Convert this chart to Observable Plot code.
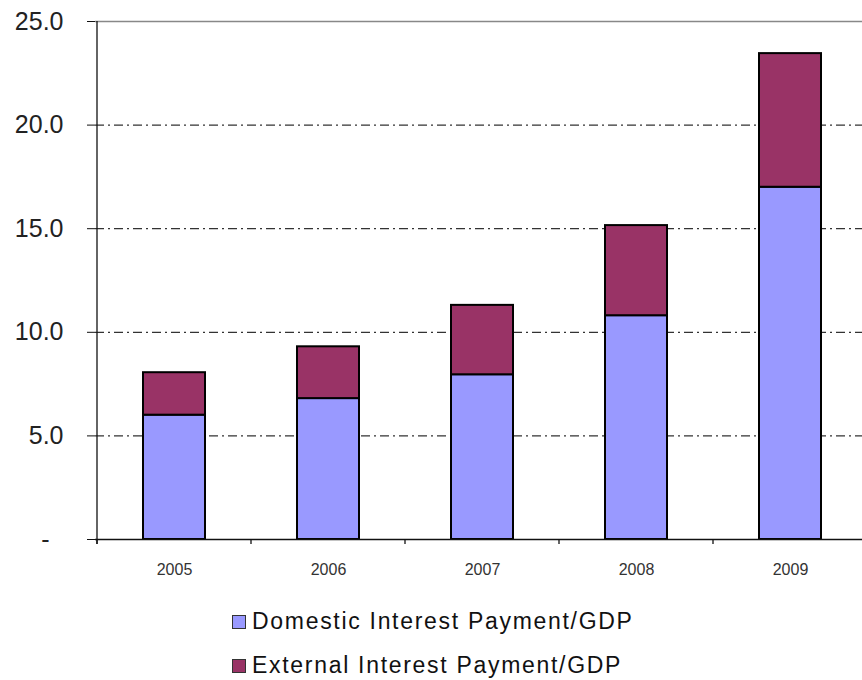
<!DOCTYPE html>
<html>
<head>
<meta charset="utf-8">
<script src="https://cdn.jsdelivr.net/npm/d3@7"></script>
<script src="https://cdn.jsdelivr.net/npm/@observablehq/plot@0.6"></script>
<style>
  html, body { margin: 0; padding: 0; background: #fff; overflow: hidden; }
  #chart { width: 862px; height: 596px; }
  .legend { margin: 3px 0 0 232px; font-family: "Liberation Sans", Arial, sans-serif; font-size: 23px; color: #111; letter-spacing: 1.7px; }
  .legend div { height: 44px; line-height: 44px; white-space: nowrap; }
  .legend span.sw { display: inline-block; box-sizing: border-box; width: 14px; height: 14px; border: 1px solid #333; margin-right: 6px; vertical-align: 0px; }
</style>
</head>
<body>
<div id="chart"></div>
<script>
const years = ["2005", "2006", "2007", "2008", "2009"];
const domestic = [6.0, 6.8, 7.95, 10.8, 17.0];
const external = [2.05, 2.5, 3.35, 4.35, 6.45];
const seriesNames = ["Domestic Interest Payment/GDP", "External Interest Payment/GDP"];
const seriesColors = ["#9999FF", "#993366"];
const yTicks = [0, 5, 10, 15, 20, 25];
const gridTicks = [5, 10, 15, 20];

const rows = [];
years.forEach((yr, i) => {
  rows.push({year: yr, series: seriesNames[0], value: domestic[i]});
  rows.push({year: yr, series: seriesNames[1], value: external[i]});
});

const W = 862, H = 596;
const plot = Plot.plot({
  width: W,
  height: H,
  marginTop: 21,
  marginBottom: 57,
  marginLeft: 95,
  marginRight: 0,
  style: {fontFamily: "'Liberation Sans', Arial, sans-serif", background: "#fff", overflow: "visible"},
  x: {domain: years, range: [95, 869], paddingInner: 0.6, paddingOuter: 0.3, label: null},
  y: {domain: [0, 25], label: null},
  color: {domain: seriesNames, range: seriesColors},
  marks: [
    Plot.ruleY(gridTicks, {stroke: "#333", strokeWidth: 1.3, strokeDasharray: "9,4,2,4"}),
    Plot.ruleY([25], {stroke: "#888", strokeWidth: 1.3}),
    Plot.barY(rows, Plot.stackY({x: "year", y: "value", fill: "series", order: seriesNames, stroke: "#000", strokeWidth: 2})),
    Plot.ruleY([0], {stroke: "#111", strokeWidth: 1.3}),
    Plot.axisY({ticks: yTicks, tickSize: 8, tickPadding: 24, fontSize: 25, fill: "#222", stroke: "#111",
      tickFormat: d => d === 0 ? "-\u2007" : d.toFixed(1)}),
    Plot.axisX({tickSize: 0, tickPadding: 24, fontSize: 16, fill: "#333"})
  ]
});
document.getElementById("chart").appendChild(plot);

// category boundary ticks and left axis line from the plot's own scales
const sx = plot.scale("x");
const sy = plot.scale("y");
const step = sx.step, bw = sx.bandwidth;
const starts = years.map(yr => sx.apply(yr));
const bounds = starts.map(s => s - (step - bw) / 2);
bounds.push(bounds[bounds.length - 1] + step);
const y0 = sy.apply(0), y25 = sy.apply(25);
const svg = d3.select(plot);
svg.append("g").selectAll("line").data(bounds).join("line")
  .attr("x1", d => d).attr("x2", d => d)
  .attr("y1", y0).attr("y2", y0 + 5)
  .attr("stroke", "#111").attr("stroke-width", 1.3);
svg.append("line")
  .attr("x1", bounds[0]).attr("x2", bounds[0])
  .attr("y1", y25).attr("y2", y0 + 5)
  .attr("stroke", "#111").attr("stroke-width", 1.3);

const legend = d3.select("body").append("div").attr("class", "legend");
seriesNames.forEach((name, i) => {
  const row = legend.append("div");
  row.append("span").attr("class", "sw").style("background", seriesColors[i]);
  row.append("span").text(name);
});
</script>
</body>
</html>
